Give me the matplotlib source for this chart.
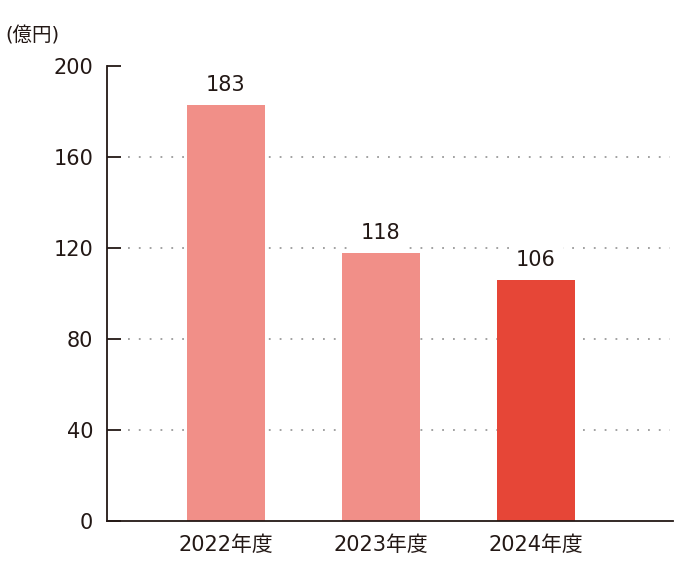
import numpy as np
import matplotlib
matplotlib.use('Agg')
import matplotlib.pyplot as plt

plt.rcParams['font.family'] = ['DejaVu Sans', 'Noto Sans CJK JP']

# Data
years = ['2022年度', '2023年度', '2024年度']
values = [183, 118, 106]
bar_colors = ['#f18f88', '#f18f88', '#e64637']
y_ticks = [0, 40, 80, 120, 160, 200]
unit_label = '(億円)'

text_color = '#231815'

fig = plt.figure(figsize=(6.74, 5.74), dpi=100)
ax = fig.add_axes([107/674, 53/574, 566/674, 455/574])

x = np.arange(len(years))
ax.bar(x, values, width=0.503, color=bar_colors, zorder=2)

# value labels sit on a white box that cuts the dotted grid lines
for xi, v in zip(x, values):
    ax.annotate(str(v), (xi, v), xytext=(0, 7), textcoords='offset points',
                ha='center', va='bottom', fontsize=15, color=text_color,
                bbox=dict(boxstyle='square,pad=0.35', fc='white', ec='none'),
                zorder=4)

ax.set_xlim(-0.768, 2.885)
ax.set_ylim(0, 200)
ax.set_xticks(x)
ax.set_xticklabels(years)
ax.set_yticks(y_ticks)

for t in y_ticks[1:-1]:
    ax.plot([-0.63, 2.865], [t, t], color='#9a9a9a', linestyle=(0, (1, 5)),
            linewidth=1.3, zorder=1)

for side in ['top', 'right']:
    ax.spines[side].set_visible(False)
ax.spines['left'].set_color(text_color)
ax.spines['bottom'].set_color(text_color)
ax.spines['left'].set_linewidth(1.3)
ax.spines['bottom'].set_linewidth(1.3)

ax.tick_params(axis='y', direction='in', length=10, width=1.3,
               color=text_color, labelsize=15, labelcolor=text_color, pad=10)
ax.tick_params(axis='x', length=0, labelsize=15, labelcolor=text_color, pad=10)

fig.text(5/674, 1 - 36/574, unit_label, fontsize=14, color=text_color,
         ha='left', va='center')

fig.savefig('out.png', dpi=100)
